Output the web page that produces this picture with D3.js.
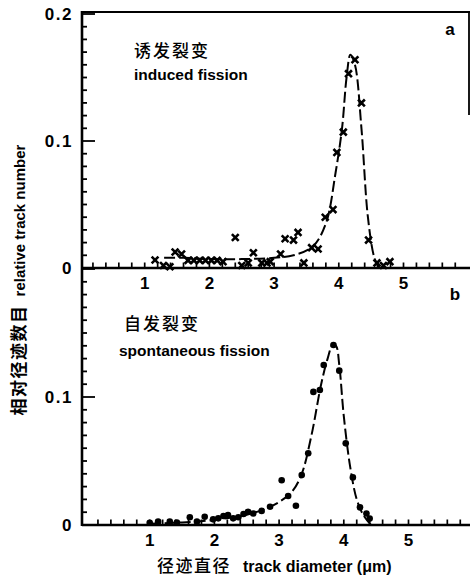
<!DOCTYPE html>
<html><head><meta charset="utf-8">
<script src="https://cdn.jsdelivr.net/npm/d3@7"></script>
<style>body{margin:0;background:#fff}svg{display:block}</style>
</head><body>
<svg id="c" width="470" height="578"></svg>
<script>
// ---- data ----
const xTicks = [1, 2, 3, 4, 5];
const yTickLabelsTop = [0, 0.1, 0.2];
const yTickLabelsBot = [0, 0.1];
// induced fission (x markers): [diameter, relative number]
const inducedD = [1.16,1.29,1.39,1.47,1.57,1.67,1.76,1.85,1.94,2.03,2.12,2.21,2.40,2.50,2.60,2.68,2.81,2.89,2.94,3.10,3.17,3.30,3.37,3.46,3.58,3.68,3.79,3.91,3.97,4.07,4.15,4.25,4.35,4.46,4.59,4.69,4.79];
const inducedV = [0.0063,0.002,0.001,0.0126,0.011,0.006,0.006,0.006,0.006,0.006,0.006,0.005,0.024,0.002,0.004,0.012,0.004,0.004,0.005,0.011,0.023,0.022,0.028,0.004,0.016,0.015,0.040,0.046,0.091,0.107,0.153,0.164,0.130,0.022,0.004,0.002,0.005];
const inducedCurveD = [1.3,1.6,2.0,2.5,3.0,3.3,3.6,3.8,3.95,4.05,4.12,4.18,4.25,4.35,4.45,4.55,4.62];
const inducedCurveV = [0.008,0.008,0.007,0.007,0.008,0.01,0.017,0.035,0.075,0.11,0.15,0.168,0.16,0.11,0.04,0.008,0.0];
// spontaneous fission (dots)
const spontD = [1.00,1.13,1.31,1.42,1.62,1.73,1.85,1.98,2.06,2.14,2.21,2.29,2.37,2.45,2.52,2.60,2.73,2.86,3.04,3.14,3.26,3.35,3.45,3.53,3.63,3.69,3.84,3.93,4.03,4.14,4.25,4.35,4.40];
const spontV = [0.0018,0.0026,0.0026,0.002,0.006,0.0026,0.0065,0.0044,0.0052,0.007,0.0078,0.0052,0.006,0.0086,0.0104,0.009,0.011,0.0143,0.035,0.0227,0.015,0.039,0.056,0.104,0.1055,0.125,0.1406,0.1206,0.0638,0.0372,0.0138,0.009,0.005];
const spontCurveD = [1.0,1.5,2.0,2.5,2.8,3.0,3.2,3.35,3.5,3.65,3.75,3.83,3.88,3.93,4.0,4.1,4.2,4.3,4.42];
const spontCurveV = [0.001,0.002,0.004,0.008,0.013,0.018,0.026,0.04,0.07,0.11,0.13,0.141,0.14,0.125,0.085,0.045,0.02,0.008,0.0];

const svg = d3.select('#c');
const FONT = "'Liberation Sans', Arial, sans-serif";
const CJK = "'Noto Sans CJK SC', sans-serif";
const axX = 82;

const xTop = d3.scaleLinear().domain([0, 6]).range([80, 80 + 6 * 64.7]);
const xBot = d3.scaleLinear().domain([0, 6]).range([85, 85 + 6 * 64.7]);
const yTop = d3.scaleLinear().domain([0, 0.2]).range([268, 14]);
const yBot = d3.scaleLinear().domain([0, 0.2]).range([525, 269]);

// left axis line (shared)
svg.append('line').attr('x1', axX).attr('x2', axX).attr('y1', 11).attr('y2', 526)
  .attr('stroke', '#000').attr('stroke-width', 2.6);
// top frame
svg.append('line').attr('x1', axX).attr('x2', 470).attr('y1', 12).attr('y2', 12)
  .attr('stroke', '#000').attr('stroke-width', 2.2);
svg.append('line').attr('x1', 469).attr('x2', 469).attr('y1', 12).attr('y2', 115)
  .attr('stroke', '#000').attr('stroke-width', 1.8);

function panel(x, y, labels, dD, dV, cD, cV, marker, tag, tagPos, zh, en, txtPos) {
  const g = svg.append('g');
  // zero line
  g.append('line').attr('x1', axX).attr('x2', 470).attr('y1', y(0)).attr('y2', y(0))
    .attr('stroke', '#000').attr('stroke-width', 2.6);
  // x minor ticks upward
  d3.range(1, 30).forEach(i => {
    const v = i * 0.2;
    g.append('line').attr('x1', x(v)).attr('x2', x(v)).attr('y1', y(0)).attr('y2', y(0) - 5.5)
      .attr('stroke', '#000').attr('stroke-width', 1.7);
  });
  // y ticks
  d3.range(1, 21).forEach(i => {
    const v = i * 0.01;
    const major = (i % 10 === 0);
    g.append('line').attr('x1', axX).attr('x2', axX + (major ? 13 : 5))
      .attr('y1', y(v)).attr('y2', y(v)).attr('stroke', '#000').attr('stroke-width', 1.8);
  });
  // x labels
  xTicks.forEach(t => {
    g.append('text').attr('x', x(t)).attr('y', y(0) + 21).attr('text-anchor', 'middle')
      .attr('font-family', FONT).attr('font-weight', 'bold').attr('font-size', 17).text(t);
  });
  // y labels
  labels.forEach(t => {
    g.append('text').attr('x', 73).attr('y', y(t) + 6).attr('text-anchor', 'end')
      .attr('font-family', FONT).attr('font-weight', 'bold').attr('font-size', 17)
      .attr('letter-spacing', 1.5).text(t === 0 ? '0' : t.toFixed(1));
  });
  // curve
  const pts = cD.map((d, i) => [d, cV[i]]);
  g.append('path').datum(pts)
    .attr('d', d3.line().x(d => x(d[0])).y(d => y(d[1])).curve(d3.curveCatmullRom.alpha(0.5)))
    .attr('fill', 'none').attr('stroke', '#000').attr('stroke-width', 2)
    .attr('stroke-dasharray', '11,4');
  // markers
  const data = dD.map((d, i) => [d, dV[i]]);
  if (marker === 'x') {
    const s = 3.4;
    data.forEach(d => {
      const px = x(d[0]), py = y(d[1]);
      g.append('path').attr('d', `M${px - s},${py - s}L${px + s},${py + s}M${px - s},${py + s}L${px + s},${py - s}`)
        .attr('stroke', '#000').attr('stroke-width', 2.6).attr('fill', 'none');
    });
  } else {
    g.selectAll('circle.pt').data(data).enter().append('circle')
      .attr('cx', d => x(d[0])).attr('cy', d => y(d[1])).attr('r', 3.3).attr('fill', '#000');
  }
  // tag
  g.append('text').attr('x', tagPos[0]).attr('y', tagPos[1]).attr('text-anchor', 'middle')
    .attr('font-family', FONT).attr('font-weight', 'bold').attr('font-size', 17).text(tag);
  // annotations
  g.append('text').attr('x', txtPos[0]).attr('y', txtPos[1])
    .attr('font-family', CJK).attr('font-weight', 500).attr('font-size', 17)
    .attr('letter-spacing', 2).text(zh);
  g.append('text').attr('x', txtPos[2]).attr('y', txtPos[3])
    .attr('font-family', FONT).attr('font-weight', 'bold').attr('font-size', 15.5).text(en);
}

panel(xTop, yTop, yTickLabelsTop, inducedD, inducedV, inducedCurveD, inducedCurveV, 'x',
  'a', [450, 35], '诱发裂变', 'induced fission', [134, 57, 134, 80]);
panel(xBot, yBot, yTickLabelsBot, spontD, spontV, spontCurveD, spontCurveV, 'o',
  'b', [455, 300], '自发裂变', 'spontaneous fission', [124, 330, 119, 356]);

// y axis title
const yt = svg.append('text').attr('transform', 'translate(25,280) rotate(-90)')
  .attr('text-anchor', 'middle');
yt.append('tspan').attr('font-family', CJK).attr('font-weight', 'bold')
  .attr('font-size', 17).attr('letter-spacing', 1.5).text('相对径迹数目');
yt.append('tspan').attr('font-family', FONT).attr('font-weight', 'bold').attr('font-size', 15)
  .attr('dx', 8).text('relative track number');

// x axis title
const xt = svg.append('text').attr('x', 157).attr('y', 572);
xt.append('tspan').attr('font-family', CJK).attr('font-weight', 500).attr('font-size', 17)
  .attr('letter-spacing', 1.5).text('径迹直径');
xt.append('tspan').attr('font-family', FONT).attr('font-weight', 'bold').attr('font-size', 16)
  .attr('dx', 12).text('track diameter (μm)');
</script>
</body></html>
